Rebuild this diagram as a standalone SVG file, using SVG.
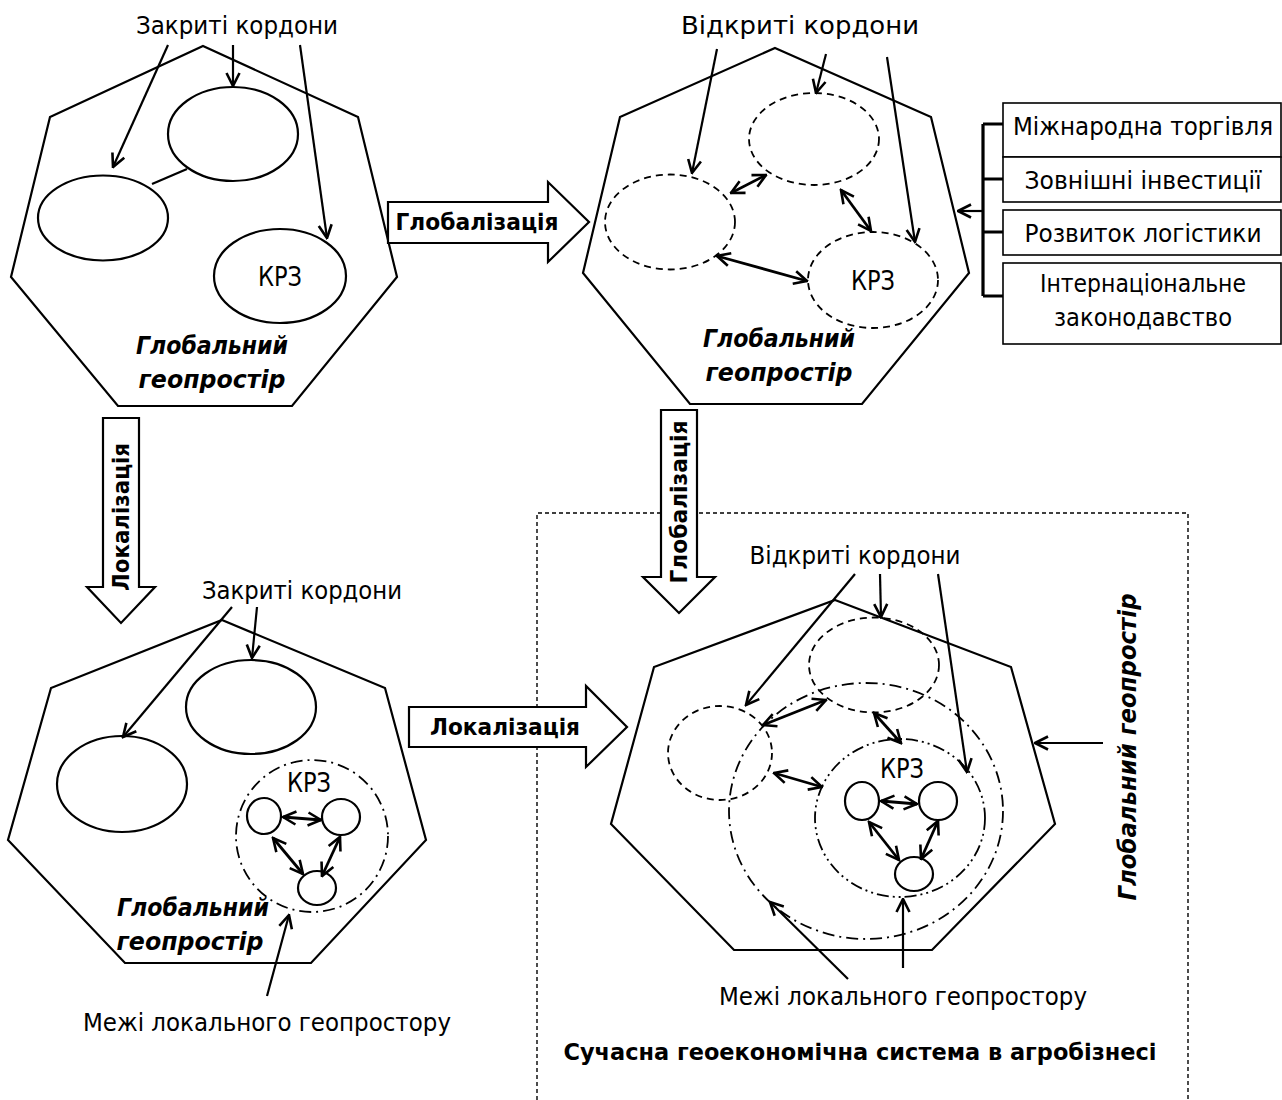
<svg xmlns="http://www.w3.org/2000/svg" width="1282" height="1100" viewBox="0 0 1282 1100">
<style>
.hept{fill:none;stroke:#000;stroke-width:2.2}
.ell{fill:#fff;stroke:#000;stroke-width:2.2}
.dash{fill:none;stroke:#000;stroke-width:1.8;stroke-dasharray:7 5}
.dd{fill:none;stroke:#000;stroke-width:1.8;stroke-dasharray:12 5 2 5}
.ddd{fill:none;stroke:#000;stroke-width:1.8;stroke-dasharray:12 4 2 4 2 4}
.ln{fill:none;stroke:#000;stroke-width:2.2}
.ar{fill:none;stroke:#000;stroke-width:2.2;marker-end:url(#arr)}
.dar{fill:none;stroke:#000;stroke-width:2.8;marker-end:url(#arr);marker-start:url(#arr)}
.blk{fill:#fff;stroke:#000;stroke-width:2.2}
.box{fill:#fff;stroke:#000;stroke-width:1.6}
.br{fill:none;stroke:#000;stroke-width:3.2}
text{font-family:"DejaVu Sans Condensed","DejaVu Sans",sans-serif;fill:#000;text-anchor:middle}
.t{font-size:25px}
.k{font-size:26px}
.bi{font-size:24px;font-weight:bold;font-style:italic}
.b{font-size:23px;font-weight:bold}
</style>
<defs>
<marker id="arr" viewBox="0 0 16 16" refX="14.5" refY="8" markerWidth="16" markerHeight="16" markerUnits="userSpaceOnUse" orient="auto-start-reverse">
<path d="M1.5,1.5 L14.5,8 L1.5,14.5" fill="none" stroke="#000" stroke-width="2.6"/>
</marker>
</defs>

<g id="frame">
<path d="M537,1100 V513 H1188 V1100" fill="none" stroke="#000" stroke-width="1.4" stroke-dasharray="4 3"/>
</g>

<g id="node-top-left">
<polygon class="hept" points="203,46 358,117 397,277 292,406 118,406 11,277 50,117"/>
<ellipse class="ell" cx="233" cy="134" rx="65" ry="47"/>
<ellipse class="ell" cx="103" cy="218" rx="65" ry="42.5"/>
<ellipse class="ell" cx="280" cy="276" rx="66" ry="47"/>
<text class="t" x="237" y="34" textLength="202" lengthAdjust="spacingAndGlyphs">Закриті кордони</text>
<text class="k" x="280" y="286" textLength="44" lengthAdjust="spacingAndGlyphs">КРЗ</text>
<text class="bi" x="212" y="354" textLength="152" lengthAdjust="spacingAndGlyphs">Глобальний</text>
<text class="bi" x="212" y="388" textLength="147" lengthAdjust="spacingAndGlyphs">геопростір</text>
</g>

<g id="node-top-right">
<polygon class="hept" points="775,48 931,117 969,273 862,404 690,404 583,273 620,117"/>
<ellipse class="dash" cx="670" cy="222" rx="65" ry="47.5"/>
<ellipse class="dash" cx="814" cy="139" rx="65" ry="46"/>
<ellipse class="dash" cx="873" cy="280" rx="65" ry="48"/>
<text class="t" x="800" y="34" textLength="238" lengthAdjust="spacingAndGlyphs">Відкриті кордони</text>
<text class="k" x="873" y="290" textLength="44" lengthAdjust="spacingAndGlyphs">КРЗ</text>
<text class="bi" x="779" y="347" textLength="152" lengthAdjust="spacingAndGlyphs">Глобальний</text>
<text class="bi" x="779" y="381" textLength="147" lengthAdjust="spacingAndGlyphs">геопростір</text>
</g>

<g id="node-factors">
<rect class="box" x="1003" y="103" width="278" height="54"/>
<rect class="box" x="1003" y="157" width="278" height="45"/>
<rect class="box" x="1003" y="210" width="278" height="45"/>
<rect class="box" x="1003" y="263" width="278" height="81"/>
<text class="t" x="1143" y="135" textLength="260" lengthAdjust="spacingAndGlyphs">Міжнародна торгівля</text>
<text class="t" x="1143" y="189" textLength="237" lengthAdjust="spacingAndGlyphs">Зовнішні інвестиції</text>
<text class="t" x="1143" y="242" textLength="237" lengthAdjust="spacingAndGlyphs">Розвиток логістики</text>
<text class="t" x="1143" y="292" textLength="206" lengthAdjust="spacingAndGlyphs">Інтернаціональне</text>
<text class="t" x="1143" y="326" textLength="178" lengthAdjust="spacingAndGlyphs">законодавство</text>
</g>

<g id="node-bottom-left">
<polygon class="hept" points="222,620 385,688 426,840 311,963 125,963 8,840 51,688"/>
<ellipse class="ell" cx="251" cy="707" rx="65" ry="47"/>
<ellipse class="ell" cx="122" cy="784" rx="65" ry="48"/>
<circle class="dd" cx="312" cy="836" r="76"/>
<ellipse class="ell" cx="264" cy="816" rx="17" ry="18"/>
<ellipse class="ell" cx="341" cy="817" rx="19" ry="18"/>
<ellipse class="ell" cx="317" cy="888" rx="19" ry="17"/>
<text class="t" x="302" y="599" textLength="200" lengthAdjust="spacingAndGlyphs">Закриті кордони</text>
<text class="k" x="309" y="792" textLength="44" lengthAdjust="spacingAndGlyphs">КРЗ</text>
<text class="bi" x="193" y="916" textLength="152" lengthAdjust="spacingAndGlyphs">Глобальний</text>
<text class="bi" x="190" y="950" textLength="147" lengthAdjust="spacingAndGlyphs">геопростір</text>
<text class="t" x="267" y="1031" textLength="368" lengthAdjust="spacingAndGlyphs">Межі локального геопростору</text>
</g>

<g id="node-bottom-right">
<polygon class="hept" points="835,600 1011,667 1055,824 932,950 734,950 611,824 654,667"/>
<ellipse class="dash" cx="874" cy="665" rx="65" ry="47.5"/>
<ellipse class="dash" cx="720" cy="753" rx="52" ry="47"/>
<ellipse class="dd" cx="866" cy="811" rx="137" ry="128"/>
<ellipse class="ddd" cx="900" cy="818" rx="85" ry="79"/>
<ellipse class="ell" cx="862" cy="801" rx="17" ry="19"/>
<ellipse class="ell" cx="938" cy="801" rx="19" ry="19"/>
<ellipse class="ell" cx="914" cy="874" rx="19" ry="17"/>
<text class="t" x="855" y="564" textLength="211" lengthAdjust="spacingAndGlyphs">Відкриті кордони</text>
<text class="k" x="902" y="778" textLength="44" lengthAdjust="spacingAndGlyphs">КРЗ</text>
<text class="t" x="903" y="1005" textLength="368" lengthAdjust="spacingAndGlyphs">Межі локального геопростору</text>
<text class="b" x="860" y="1060" textLength="593" lengthAdjust="spacingAndGlyphs">Сучасна геоекономічна система в агробізнесі</text>
<text class="bi" transform="translate(1136,747) rotate(-90)" textLength="307" lengthAdjust="spacingAndGlyphs">Глобальний геопростір</text>
</g>

<g id="block-arrows">
<polygon class="blk" points="388,202 548,202 548,182 589,222 548,262 548,243 388,243"/>
<text class="b" x="477" y="230" textLength="163" lengthAdjust="spacingAndGlyphs">Глобалізація</text>
<polygon class="blk" points="409,707 586,707 586,686 627,727 586,767 586,747 409,747"/>
<text class="b" x="505" y="735" textLength="150" lengthAdjust="spacingAndGlyphs">Локалізація</text>
<polygon class="blk" points="103,418 139,418 139,587 155,587 121,623 87,587 103,587"/>
<text class="b" transform="translate(129,517) rotate(-90)" textLength="148" lengthAdjust="spacingAndGlyphs">Локалізація</text>
<polygon class="blk" points="661,410 697,410 697,577 715,577 679,613 643,577 661,577"/>
<text class="b" transform="translate(687,502) rotate(-90)" textLength="163" lengthAdjust="spacingAndGlyphs">Глобалізація</text>
</g>

<g id="connectors">
<line class="ln" x1="152" y1="184" x2="187" y2="169"/>
<line class="ar" x1="168" y1="45" x2="113" y2="167"/>
<line class="ar" x1="233" y1="45" x2="233" y2="86"/>
<line class="ar" x1="300" y1="45" x2="327" y2="238"/>

<line class="ar" x1="717" y1="49" x2="692" y2="173"/>
<line class="ar" x1="826" y1="54" x2="816" y2="93"/>
<line class="ar" x1="887" y1="57" x2="915" y2="242"/>
<line class="dar" x1="731" y1="193" x2="766" y2="175"/>
<line class="dar" x1="841" y1="190" x2="871" y2="231"/>
<line class="dar" x1="717" y1="256" x2="807" y2="281"/>

<path class="br" d="M983,124 V296 M983,124 H1003 M983,179 H1003 M983,232 H1003 M983,296 H1003"/>
<line class="ar" x1="983" y1="211" x2="958" y2="211"/>

<line class="ar" x1="232" y1="607" x2="123" y2="737"/>
<line class="ar" x1="257" y1="607" x2="252" y2="658"/>
<line class="ar" x1="267" y1="996" x2="289" y2="915"/>
<line class="dar" x1="283" y1="817" x2="321" y2="820"/>
<line class="dar" x1="273" y1="838" x2="303" y2="874"/>
<line class="dar" x1="340" y1="837" x2="322" y2="876"/>

<line class="ar" x1="855" y1="574" x2="746" y2="705"/>
<line class="ar" x1="880" y1="574" x2="881" y2="617"/>
<line class="ar" x1="938" y1="574" x2="967" y2="772"/>
<line class="ar" x1="1103" y1="743" x2="1035" y2="743"/>
<line class="ar" x1="848" y1="979" x2="770" y2="902"/>
<line class="ar" x1="903" y1="968" x2="903" y2="899"/>
<line class="dar" x1="881" y1="801" x2="917" y2="804"/>
<line class="dar" x1="869" y1="822" x2="899" y2="860"/>
<line class="dar" x1="938" y1="821" x2="921" y2="859"/>
<line class="dar" x1="763" y1="725" x2="826" y2="700"/>
<line class="dar" x1="774" y1="773" x2="822" y2="787"/>
<line class="dar" x1="874" y1="713" x2="901" y2="743"/>
</g>
</svg>
